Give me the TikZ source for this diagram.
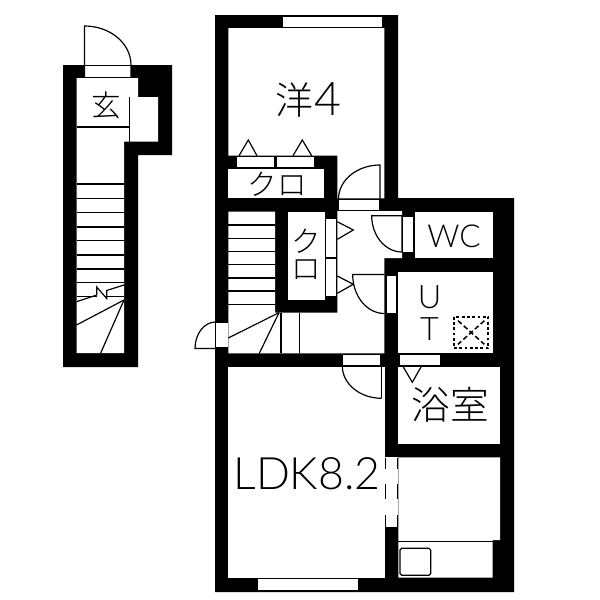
\documentclass[tikz,border=0pt]{standalone}
\usepackage{fontspec}
\setmainfont{Lato Light}
\newfontfamily\cjk{Noto Sans CJK JP Light}
\tikzset{
  wall/.style={fill=black},
  room/.style={fill=white},
  thinline/.style={draw=black,line width=1.7pt},
  doorstrip/.style={fill=white,draw=black,line width=1.2pt},
  roomlabel/.style={inner sep=0pt,font=\cjk\fontsize{55}{55}\selectfont},
  smalllabel/.style={inner sep=0pt,font=\cjk\fontsize{42}{42}\selectfont}
}
\begin{document}
\begin{tikzpicture}[x=0.05cm,y=-0.05cm]
\useasboundingbox[fill=white] (0,0) rectangle (600,600);

\fill[wall] (63,65) -- (172,65) -- (172,155) -- (138,155) -- (138,367) -- (63,367) -- cycle;
\fill[room] (76.5,78) -- (138,78) -- (138,97) -- (158,97) -- (158,141.5) -- (124,141.5) -- (124,353) -- (76.5,353) -- cycle;
\fill[room] (84.5,66) rectangle (131,77);
\draw[thinline] (84.5,77.5) -- (84.5,26) arc[start angle=-90,end angle=0,x radius=46.5,y radius=39] -- (131,77.5);
\draw[thinline] (84.5,77.5) -- (131,77.5);
\draw[thinline] (84.5,65.5) -- (131,65.5);
\draw[thinline] (76.5,127) -- (129.5,127);
\draw[thinline] (129.5,97) -- (129.5,141.5);
\foreach \sy in {184,198.7,212.7,227,240.7,255,269,282.5} {
  \draw[thinline] (76.5,\sy) -- (124,\sy);
}
\draw[thinline] (76.5,301.7) -- (96.7,295) -- (96.7,287) -- (106.7,298.5) -- (106.7,290.5) -- (124,285);
\draw[thinline] (76.5,296.7) -- (96.7,296.7);
\draw[thinline] (106.7,296.7) -- (124,296.7);
\draw[thinline] (124,300) -- (76.5,325);
\draw[thinline] (124,300) -- (100.7,353);

\fill[wall] (215,15) -- (398,15) -- (398,198) -- (514,198) -- (514,592) -- (215,592) -- cycle;
\fill[room] (228.3,28) -- (384.3,28) -- (384.3,198.3) -- (337.3,198.3) -- (337.3,155.7) -- (228.3,155.7) -- cycle;
\fill[room] (228.3,169.3) rectangle (324,198.3);
\fill[room] (228.3,211.7) -- (275,211.7) -- (275,312.7) -- (337.3,312.7) -- (337.3,211) -- (402,211) -- (402,258) -- (384.3,258) -- (384.3,353.3) -- (228.3,353.3) -- cycle;
\fill[room] (288.3,211.7) -- (325,211.7) -- (325,300) -- (288.3,300) -- cycle;
\fill[room] (415,211.7) rectangle (493.3,258);
\fill[room] (398.3,272.3) rectangle (493.3,353.3);
\fill[room] (398.3,366.7) rectangle (500,444);
\fill[room] (398.3,457.3) -- (500,457.3) -- (500,540) -- (492.7,540) -- (492.7,577.7) -- (398.3,577.7) -- cycle;
\fill[room] (228.3,366.7) rectangle (385,577.7);
\fill[room] (385,457.3) rectangle (398.3,526.7);

\fill[room] (283.3,16.5) rectangle (381.7,27);
\fill[room] (258,579) rectangle (358.3,590);

\draw[doorstrip] (236,156.7) rectangle (274.5,167.7);
\draw[doorstrip] (276,156.7) rectangle (314.7,167.7);
\draw[thinline] (239,155.7) -- (248.3,140) -- (257,155.7);
\draw[thinline] (293,155.7) -- (302.3,140) -- (311.7,155.7);

\draw[doorstrip] (325,218.3) rectangle (336.7,257);
\draw[doorstrip] (325,258) rectangle (336.7,296.7);
\draw[thinline] (337.3,221.7) -- (353.3,230) -- (337.3,239.3);
\draw[thinline] (337.3,276) -- (353.3,284.3) -- (337.3,293.3);

\draw[doorstrip] (338.5,199.3) rectangle (379,210);
\draw[thinline] (338.5,199) arc[start angle=180,end angle=270,x radius=41.5,y radius=34] -- (380,199);

\draw[doorstrip] (402.3,216) rectangle (413.3,252.3);
\draw[thinline] (402,252) arc[start angle=90,end angle=180,x radius=30.3,y radius=36.3] -- (402,215.7) -- (402,252);

\draw[doorstrip] (386,275) rectangle (396.7,313.3);
\draw[thinline] (384.3,313.5) arc[start angle=90,end angle=180,x radius=31.6,y radius=39] -- (384.3,274.5);

\draw[doorstrip] (342.3,354.5) rectangle (380.7,365.7);
\draw[thinline] (381.7,398.3) arc[start angle=90,end angle=180,x radius=39.4,y radius=32.3];
\draw[thinline] (381.7,366) -- (381.7,398.3);

\draw[doorstrip] (399,354.5) rectangle (440,365.7);
\draw[thinline] (403.3,367) -- (412.3,382.3) -- (421,367);

\fill[room] (216,322) rectangle (227.5,347.3);
\draw[thinline] (216,322) -- (227.5,322);
\draw[thinline] (216,347.8) -- (227.5,347.8);
\draw[thinline] (215.5,322) arc[start angle=270,end angle=180,x radius=20.5,y radius=26.5] -- (215.5,348.5);

\foreach \sy in {225,238.3,251.3,264.3,278,291,304.3} {
  \draw[thinline] (228.3,\sy) -- (275,\sy);
}
\draw[thinline] (279,312.7) -- (228.3,338);
\draw[thinline] (279,312.7) -- (259.3,353.3);
\draw[thinline] (281,312.7) -- (281,353.3);
\draw[thinline] (299.3,312.7) -- (299.3,353.3);

\foreach \dy/\dz in {458.3/469.3,484/499.3,515/526.7} {
  \draw[thinline,line width=2.6pt] (385.5,\dy) -- (385.5,\dz);
  \draw[thinline,line width=2.6pt] (397.5,\dy) -- (397.5,\dz);
}
\draw[thinline] (398.3,541.7) -- (492.7,541.7);
\draw[thinline,rounded corners=2.5pt] (400,548.3) rectangle (430.7,575.3);

\draw[thinline,line width=2.8pt,dash pattern=on 4pt off 3.5pt] (454,316.7) rectangle (488.3,348.3);
\draw[thinline,line width=2.2pt,dash pattern=on 7pt off 4pt] (458,320.7) -- (484.3,344.3);
\draw[thinline,line width=2.2pt,dash pattern=on 7pt off 4pt] (484.3,320.7) -- (458,344.3);

\node[smalllabel] (genkan) at (106,105) {玄};
\node[inner sep=0pt,font=\cjk\fontsize{54}{54}\selectfont] (yoshitsu) at (294.5,100) {洋};
\node[inner sep=0pt,font=\fontsize{66}{66}\selectfont] (yoshitsunum) at (328,99) {4};
\node[smalllabel] (kuro1) at (277,184) {クロ};
\node[smalllabel] (kuro2a) at (306,241) {ク};
\node[smalllabel] (kuro2b) at (306,270) {ロ};
\node[inner sep=0pt,font=\fontsize{45}{45}\selectfont] (wc) at (454,236) {WC};
\node[inner sep=0pt,font=\fontsize{46}{46}\selectfont] (utu) at (429.5,297.5) {U};
\node[inner sep=0pt,font=\fontsize{46}{46}\selectfont] (utt) at (429.5,329) {T};
\node[roomlabel] (yokushitsu) at (450,404.5) {浴室};
\node[inner sep=0pt,font=\fontsize{63.5}{63.5}\selectfont] (ldk) at (307,473.5) {LDK8.2};
\end{tikzpicture}
\end{document}
